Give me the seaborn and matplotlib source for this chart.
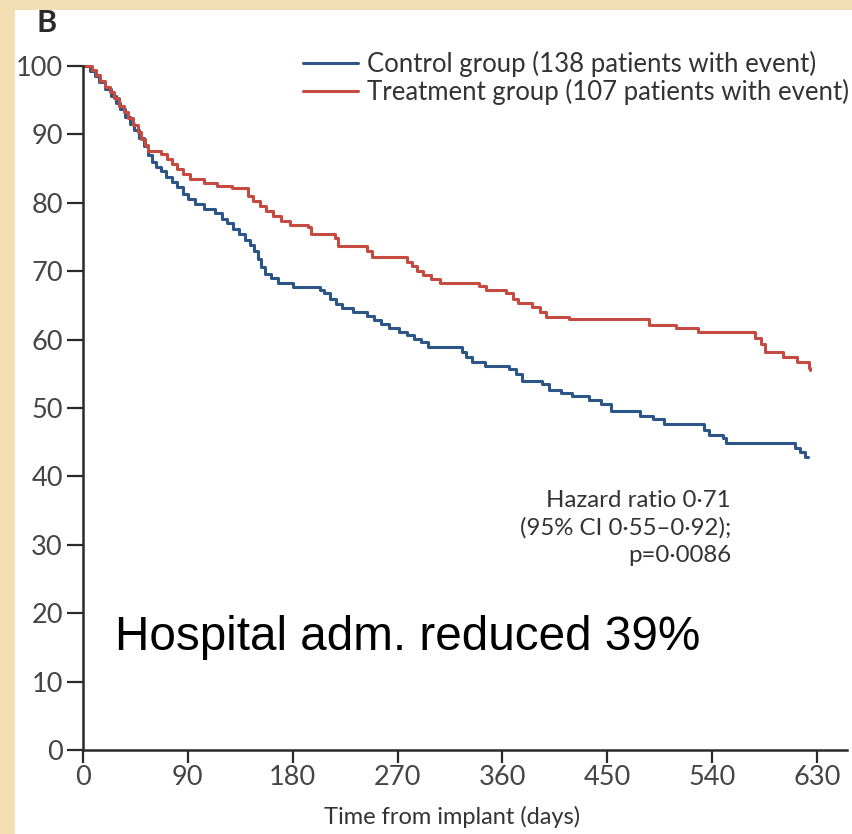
import matplotlib
matplotlib.use("Agg")
import matplotlib.pyplot as plt
import seaborn as sns
import pandas as pd
from matplotlib.patches import Rectangle

# ---------------- data ----------------
control_days = [0, 6, 10, 14, 19, 24, 28, 32, 36, 40, 44, 48, 52, 56, 59, 63, 67, 71,
                76, 81, 86, 90, 96, 104, 113, 119, 124, 129, 134, 139, 143, 147, 150,
                153, 156, 161, 167, 180, 203, 207, 212, 217, 222, 232, 244, 250, 256,
                263, 271, 278, 284, 290, 296, 325, 329, 334, 345, 366, 372, 377, 394,
                400, 410, 420, 434, 445, 453, 478, 489, 499, 533, 537, 549, 552, 611,
                615, 620, 622]
control_surv = [100, 99.3, 98.5, 97.6, 96.6, 95.6, 94.6, 93.7, 92.6, 91.5, 90.6, 89.5,
                88.3, 87.0, 86.0, 85.3, 84.6, 83.8, 83.0, 82.3, 81.3, 80.5, 79.8, 79.1,
                78.5, 77.7, 77.0, 76.2, 75.5, 74.6, 73.8, 73.0, 71.8, 70.6, 69.6, 69.0,
                68.3, 67.7, 67.3, 66.8, 66.0, 65.2, 64.6, 64.0, 63.5, 62.8, 62.3, 61.7,
                61.1, 60.6, 60.1, 59.6, 58.9, 58.2, 57.4, 56.7, 56.2, 55.7, 54.9, 54.0,
                53.5, 52.6, 52.2, 51.7, 51.1, 50.6, 49.6, 48.8, 48.4, 47.7, 46.8, 46.1,
                45.6, 44.9, 44.2, 43.6, 42.9, 42.9]

treatment_days = [0, 8, 11, 15, 19, 23, 27, 31, 35, 39, 43, 47, 50, 53, 56, 67, 72, 76,
                  81, 86, 92, 104, 115, 128, 142, 146, 152, 157, 163, 170, 178, 193, 196,
                  216, 219, 244, 248, 278, 282, 287, 292, 299, 306, 340, 346, 363, 369,
                  373, 385, 392, 397, 417, 486, 509, 528, 577, 582, 585, 601, 613, 623,
                  624]
treatment_surv = [100, 99.4, 98.7, 97.8, 97.0, 96.2, 95.3, 94.2, 93.3, 92.4, 91.4, 90.4,
                  89.3, 88.4, 87.6, 87.1, 86.4, 85.7, 85.0, 84.2, 83.5, 82.9, 82.5, 82.2,
                  81.0, 80.2, 79.6, 78.8, 78.0, 77.3, 76.7, 76.4, 75.4, 74.8, 73.7, 73.0,
                  72.1, 71.4, 70.8, 70.1, 69.5, 68.9, 68.3, 67.9, 67.3, 66.8, 66.0, 65.3,
                  64.8, 64.0, 63.3, 63.0, 62.1, 61.7, 61.1, 60.2, 59.4, 58.2, 57.4, 56.7,
                  55.9, 55.5]

groups = ["Control", "Treatment"]
legend_labels = ["Control group (138 patients with event)",
                 "Treatment group (107 patients with event)"]
x_ticks = [0, 90, 180, 270, 360, 450, 540, 630]
y_ticks = [0, 10, 20, 30, 40, 50, 60, 70, 80, 90, 100]
hazard_lines = ["Hazard ratio 0·71", "(95% CI 0·55–0·92);", "p=0·0086"]
headline = "Hospital adm. reduced 39%"
panel_label = "B"
x_label = "Time from implant (days)"

df = pd.concat([
    pd.DataFrame({"day": control_days, "surv": control_surv, "group": groups[0]}),
    pd.DataFrame({"day": treatment_days, "surv": treatment_surv, "group": groups[1]}),
], ignore_index=True)

# ---------------- figure ----------------
sns.set_theme(style="white")
plt.rcParams["font.family"] = ["Lato", "DejaVu Sans"]

W, H = 853, 834
fig = plt.figure(figsize=(W / 100, H / 100), dpi=100)
fig.patch.set_facecolor("#f4dfb4")
fig.patches.append(Rectangle((15 / W, 0), 1, (H - 10) / H, transform=fig.transFigure,
                             facecolor="white", edgecolor="none", zorder=-5))

x0_px, x630_px = 83, 817
px_per_day = (x630_px - x0_px) / 630
ax_left, ax_right = 83, 847
ax_top, ax_bottom = 66, 750
ax = fig.add_axes([ax_left / W, (H - ax_bottom) / H, (ax_right - ax_left) / W,
                   (ax_bottom - ax_top) / H])
ax.set_facecolor("none")
ax.set_zorder(2)

palette = {"Control": "#2c5687", "Treatment": "#c54b42"}
sns.lineplot(data=df, x="day", y="surv", hue="group", hue_order=groups,
             palette=palette, estimator=None, sort=False, drawstyle="steps-post",
             linewidth=2.2, legend=False, ax=ax)
for ln in ax.get_lines():
    ln.set_clip_on(False)

ax.set_xlim(0, (ax_right - ax_left) / px_per_day)
ax.set_ylim(0, 100)
ax.set_xticks(x_ticks)
ax.set_yticks(y_ticks)
ax.set_xticklabels([str(t) for t in x_ticks])
ax.set_yticklabels([str(t) for t in y_ticks])

for s in ["top", "right"]:
    ax.spines[s].set_visible(False)
for s in ["left", "bottom"]:
    ax.spines[s].set_color("#2a2a2a")
    ax.spines[s].set_linewidth(1.8)

ax.tick_params(axis="y", direction="out", length=11.5, width=1.6, color="#2a2a2a",
               labelsize=19.5, labelcolor="#454545", pad=3, left=True)
ax.tick_params(axis="x", direction="out", length=9.5, width=1.6, color="#2a2a2a",
               labelsize=19.5, labelcolor="#454545", pad=1, bottom=True)

ax.set_xlabel(x_label, fontsize=17, color="#333333")
ax.xaxis.label.set_position(((452 - ax_left) / (ax_right - ax_left), 0))
ax.xaxis.labelpad = 12
ax.set_ylabel("")

leg = ax.legend(ax.get_lines(), legend_labels, loc="upper left",
                bbox_to_anchor=(303 / W, (H - 51) / H), bbox_transform=fig.transFigure,
                frameon=False, fontsize=18.5, handlelength=2.15, handletextpad=0.33,
                labelspacing=0.05, borderaxespad=0, borderpad=0)
for t in leg.get_texts():
    t.set_color("#333333")

for i, line in enumerate(hazard_lines):
    fig.text(731 / W, 1 - (500 + i * 27.5) / H, line, ha="right", va="center",
             fontsize=17.3, color="#333333")

fig.text(115 / W, 1 - 650 / H, headline, ha="left", va="baseline",
         fontsize=34.3, color="black", family=["Liberation Sans", "DejaVu Sans"])

fig.text(37 / W, 1 - 23 / H, panel_label, ha="left", va="center", fontsize=22,
         fontweight="bold", color="#2a2a2a")

fig.savefig("out.png", dpi=100)
